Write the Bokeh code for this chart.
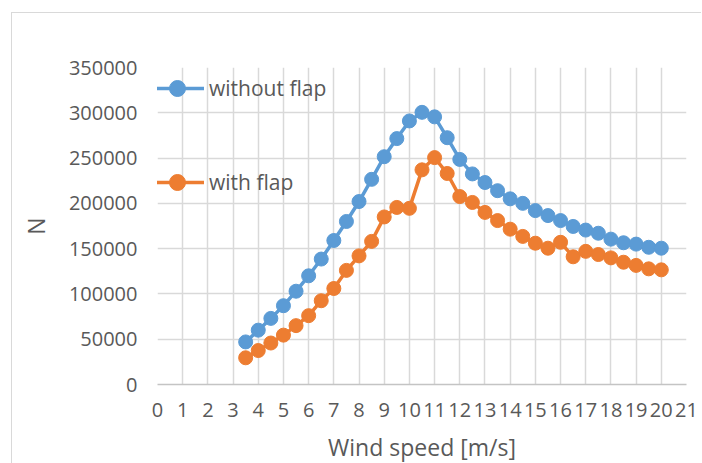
from bokeh.plotting import figure
from bokeh.models import Range1d, FixedTicker, Legend, LegendItem, NumeralTickFormatter
from bokeh.embed import file_html
from bokeh.resources import INLINE

# Wind speed [m/s] and the resulting load [N]
wind_speed = [3.5, 4.0, 4.5, 5.0, 5.5, 6.0, 6.5, 7.0, 7.5, 8.0,
              8.5, 9.0, 9.5, 10.0, 10.5, 11.0, 11.5, 12.0, 12.5, 13.0,
              13.5, 14.0, 14.5, 15.0, 15.5, 16.0, 16.5, 17.0, 17.5, 18.0,
              18.5, 19.0, 19.5, 20.0]
without_flap = [47000, 60000, 73000, 87000, 103000, 120000, 138500, 159000, 180000, 202000,
                226500, 251500, 271500, 291000, 300500, 295500, 272500, 248500, 232500, 223000,
                214000, 205000, 200000, 192000, 186500, 181000, 174500, 170500, 167000, 160500,
                156500, 155000, 151500, 150500]
with_flap = [29500, 37500, 45800, 54500, 65000, 76000, 92500, 106000, 126000, 142000,
             158000, 185000, 195500, 194500, 237000, 250500, 233000, 207500, 201000, 190000,
             181000, 171500, 163500, 156000, 150500, 157000, 141000, 147000, 143500, 139800,
             135000, 131500, 127700, 126600]
x_ticks = [0, 1, 2, 3, 4, 5, 6, 7, 8, 9, 10, 11, 12, 13, 14, 15, 16, 17, 18, 19, 20, 21]
y_ticks = [0, 50000, 100000, 150000, 200000, 250000, 300000, 350000]

BLUE = "#5B9BD5"
ORANGE = "#ED7D31"
TEXT = "#595959"
GRID = "#d9d9d9"
FONT = "Open Sans"

# the chart sits in a frame offset from the page's top-left corner
p = figure(width=690, height=460, output_backend="svg", toolbar_location=None,
           x_range=Range1d(0, 21), y_range=Range1d(0, 350000),
           min_border_left=145, min_border_right=16, min_border_top=54, min_border_bottom=89)
p.margin = (12, 0, 0, 11)
p.styles = {"border-top": "1px solid #d9d9d9", "border-left": "1px solid #d9d9d9"}
p.outline_line_color = None
p.background_fill_color = "white"
p.border_fill_color = "white"

# grids
p.xgrid.ticker = FixedTicker(ticks=x_ticks)
p.ygrid.ticker = FixedTicker(ticks=y_ticks)
for g in (p.xgrid, p.ygrid):
    g.grid_line_color = GRID
    g.grid_line_width = 1.5

# x axis
xa = p.xaxis[0]
xa.ticker = FixedTicker(ticks=x_ticks)
xa.axis_label = "Wind speed [m/s]"
xa.axis_line_color = "#c4c4c4"
xa.axis_line_width = 1.5
xa.major_tick_out = 0
xa.major_tick_in = 0
xa.minor_tick_out = 0
xa.minor_tick_in = 0
xa.major_label_standoff = 18
xa.axis_label_standoff = 11

# y axis
ya = p.yaxis[0]
ya.ticker = FixedTicker(ticks=y_ticks)
ya.formatter = NumeralTickFormatter(format="0")
ya.axis_label = "N"
ya.axis_line_color = None
ya.major_tick_out = 0
ya.major_tick_in = 0
ya.minor_tick_out = 0
ya.minor_tick_in = 0
ya.major_label_standoff = 20
ya.axis_label_standoff = 14

for ax in (xa, ya):
    ax.major_label_text_font = FONT
    ax.major_label_text_font_size = "20px"
    ax.major_label_text_color = TEXT
    ax.axis_label_text_font = FONT
    ax.axis_label_text_font_size = "23px"
    ax.axis_label_text_font_style = "normal"
    ax.axis_label_text_color = TEXT

# series
l1 = p.line(wind_speed, without_flap, line_color=BLUE, line_width=3.5)
s1 = p.scatter(wind_speed, without_flap, size=14, fill_color=BLUE, line_color=BLUE)
l2 = p.line(wind_speed, with_flap, line_color=ORANGE, line_width=3.5)
s2 = p.scatter(wind_speed, with_flap, size=14, fill_color=ORANGE, line_color=ORANGE)

legend = Legend(items=[LegendItem(label="without flap", renderers=[l1, s1]),
                       LegendItem(label="with flap", renderers=[l2, s2])],
                location=(-7, 182), orientation="vertical",
                glyph_width=54, glyph_height=40, label_height=40, label_standoff=5,
                spacing=54, padding=0, margin=0,
                border_line_color=None, background_fill_alpha=0,
                label_text_font=FONT, label_text_font_size="21px", label_text_color=TEXT)
p.add_layout(legend)

open("out.html", "w").write(file_html(p, INLINE))
